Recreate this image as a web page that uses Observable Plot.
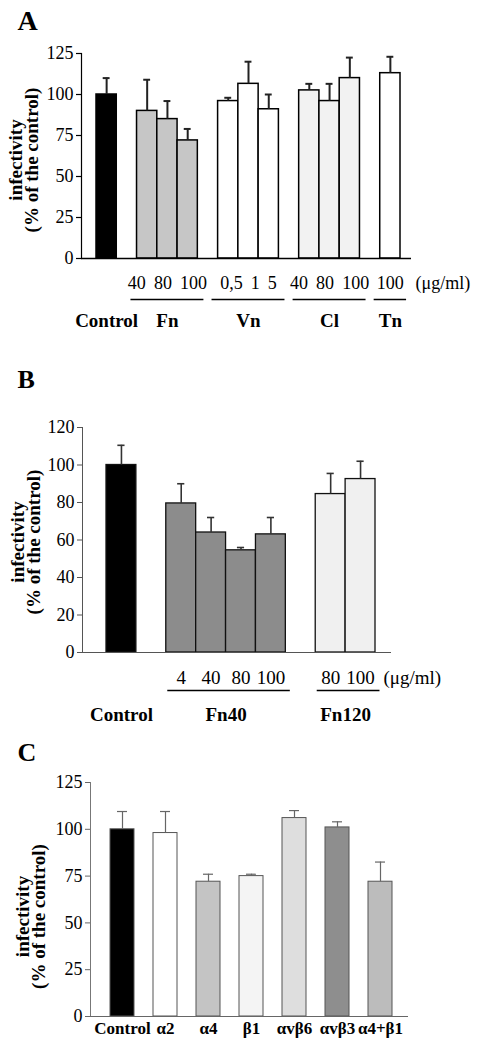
<!DOCTYPE html>
<html><head><meta charset="utf-8">
<script src="https://cdn.jsdelivr.net/npm/d3@7"></script>
<script src="https://cdn.jsdelivr.net/npm/@observablehq/plot@0.6"></script>
<style>
body{margin:0;background:#fff;width:480px}
#chart svg{display:block}
</style>
</head><body><div id="chart"></div>
<script>
// ---------- Panel A ----------
const aGroups = ["Control", "Fn", "Vn", "Cl", "Tn"];
const aConc = [[""], ["40", "80", "100"], ["0,5", "1", "5"], ["40", "80", "100"], ["100"]];
const aValues = [[100], [90, 85, 72], [96, 106.5, 91], [102.5, 96, 110], [113]];
const aErrors = [[110], [109, 96, 79], [98, 120, 100], [106.5, 106.5, 122.5], [123]];
const aFills = ["#000000", "#c6c6c6", "#ffffff", "#f2f2f2", "#ffffff"];
const aTicks = [0, 25, 50, 75, 100, 125];

// ---------- Panel B ----------
const bGroups = ["Control", "Fn40", "Fn120"];
const bConc = [[""], ["4", "40", "80", "100"], ["80", "100"]];
const bValues = [[100], [79.5, 64, 54.5, 63], [84.5, 92.5]];
const bErrors = [[110.5], [90, 72, 56, 72], [95.5, 102]];
const bFills = ["#000000", "#8c8c8c", "#f0f0f0"];
const bTicks = [0, 20, 40, 60, 80, 100, 120];

// ---------- Panel C ----------
const cCategories = ["Control", "α2", "α4", "β1", "αvβ6", "αvβ3", "α4+β1"];
const cValues = [100, 98, 72, 75, 106, 101, 72];
const cErrors = [109.5, 109.5, 76, 76, 110, 104, 82.5];
const cFills = ["#000000", "#ffffff", "#c4c4c4", "#f4f4f4", "#dedede", "#8e8e8e", "#bcbcbc"];
const cTicks = [0, 25, 50, 75, 100, 125];

const yLabel = "infectivity\n(% of the control)";
const unitLabel = "(μg/ml)";
const serif = "'Liberation Serif', 'DejaVu Serif', serif";

// build slot layout: bars of a group side by side, one empty slot between groups
function layout(groups, conc, values, errors) {
  const rows = [], spans = [];
  let slot = 0;
  groups.forEach((g, gi) => {
    const start = slot;
    conc[gi].forEach((c, k) => {
      rows.push({group: g, conc: c, value: values[gi][k], err: errors[gi][k], i: slot});
      slot++;
    });
    spans.push({group: g, start, end: slot, label: conc[gi].join("\u2009 "), hasConc: conc[gi].some(c => c !== "")});
    if (gi < groups.length - 1) slot++;
  });
  return {rows, spans, n: slot};
}

const root = document.getElementById("chart");

// ----- A -----
const A = layout(aGroups, aConc, aValues, aErrors);
const aSpans = A.spans.filter(s => s.hasConc);
root.append(Plot.plot({
  width: 480, height: 340,
  marginTop: 53, marginBottom: 82, marginLeft: 81, marginRight: 69,
  style: {fontFamily: serif, fontSize: "18px", background: "white", overflow: "visible"},
  x: {domain: [0, A.n], insetLeft: 15, insetRight: 11, axis: null},
  y: {domain: [0, 125], axis: null},
  color: {domain: aGroups, range: aFills},
  marks: [
    Plot.axisY({ticks: aTicks, tickSize: 5, tickPadding: 3, fontSize: 18, fontFamily: serif, stroke: "#000", strokeWidth: 1.2}),
    Plot.rectY(A.rows, {x1: "i", x2: d => d.i + 1, y: "value", fill: "group", stroke: "#000", strokeWidth: 1.5}),
    Plot.ruleX(A.rows, {x: d => d.i + 0.5, y1: "value", y2: "err", stroke: "#222", strokeWidth: 2}),
    Plot.ruleY(A.rows, {y: "err", x1: d => d.i + 0.33, x2: d => d.i + 0.67, stroke: "#222", strokeWidth: 2}),
    Plot.frame({anchor: "left", stroke: "#000", strokeWidth: 1.2}),
    Plot.ruleY([0], {stroke: "#000", strokeWidth: 1.5}),
    Plot.text(aSpans, {x: d => (d.start + d.end) / 2, text: "label", frameAnchor: "bottom", lineAnchor: "bottom", dy: 30, fontSize: 18, fontFamily: serif}),
    Plot.text([unitLabel], {x: () => A.n, text: d => d, frameAnchor: "bottom", lineAnchor: "bottom", dx: 15, dy: 30, textAnchor: "start", fontSize: 18, fontFamily: serif}),
    Plot.ruleY(aSpans, {y: () => 0, x1: d => d.start - 0.3, x2: d => d.end + 0.3, dy: 41, stroke: "#000", strokeWidth: 1.5}),
    Plot.text(A.spans, {x: d => (d.start + d.end) / 2, text: "group", frameAnchor: "bottom", lineAnchor: "bottom", dy: 68, fontSize: 19, fontWeight: "bold", fontFamily: serif}),
    Plot.text(["A"], {frameAnchor: "top-left", lineAnchor: "middle", text: d => d, dx: -64, dy: -32, fontSize: 28, fontWeight: "bold", textAnchor: "start", fontFamily: serif}),
    Plot.text([yLabel], {frameAnchor: "left", text: d => d, rotate: -90, dx: -57, dy: 4, fontSize: 19, fontWeight: "bold", lineHeight: 0.88, textAnchor: "middle", lineAnchor: "middle", fontFamily: serif})
  ]
}));

// ----- B -----
const B = layout(bGroups, bConc, bValues, bErrors);
const bSpans = B.spans.filter(s => s.hasConc);
root.append(Plot.plot({
  width: 480, height: 385,
  marginTop: 87, marginBottom: 73, marginLeft: 82, marginRight: 89,
  style: {fontFamily: serif, fontSize: "18px", background: "white", overflow: "visible"},
  x: {domain: [0, B.n], insetLeft: 24, insetRight: 16, axis: null},
  y: {domain: [0, 120], axis: null},
  color: {domain: bGroups, range: bFills},
  marks: [
    Plot.axisY({ticks: bTicks, tickSize: 5, tickPadding: 3, fontSize: 18, fontFamily: serif, stroke: "#555"}),
    Plot.rectY(B.rows, {x1: "i", x2: d => d.i + 1, y: "value", fill: "group", stroke: "#111", strokeWidth: 1.3}),
    Plot.ruleX(B.rows, {x: d => d.i + 0.5, y1: "value", y2: "err", stroke: "#333", strokeWidth: 1.6}),
    Plot.ruleY(B.rows, {y: "err", x1: d => d.i + 0.38, x2: d => d.i + 0.62, stroke: "#333", strokeWidth: 1.6}),
    Plot.frame({anchor: "left", stroke: "#555"}),
    Plot.ruleY([0], {stroke: "#555", strokeWidth: 1.2}),
    Plot.text(B.rows.filter(d => d.conc !== ""), {x: d => d.i + 0.5, text: "conc", frameAnchor: "bottom", lineAnchor: "bottom", dy: 31, fontSize: 19, fontFamily: serif}),
    Plot.text([unitLabel], {x: () => B.n, text: d => d, frameAnchor: "bottom", lineAnchor: "bottom", dx: 8, dy: 31, textAnchor: "start", fontSize: 19, fontFamily: serif}),
    Plot.ruleY(bSpans, {y: () => 0, x1: d => d.start + 0.05, x2: d => d.end + 0.15, dy: 38, stroke: "#000", strokeWidth: 1.5}),
    Plot.text(B.spans, {x: d => (d.start + d.end) / 2, text: "group", frameAnchor: "bottom", lineAnchor: "bottom", dy: 68, fontSize: 19, fontWeight: "bold", fontFamily: serif}),
    Plot.text(["B"], {frameAnchor: "top-left", lineAnchor: "middle", text: d => d, dx: -65, dy: -48, fontSize: 26, fontWeight: "bold", textAnchor: "start", fontFamily: serif}),
    Plot.text([yLabel], {frameAnchor: "left", text: d => d, rotate: -90, dx: -56, dy: 2, fontSize: 19, fontWeight: "bold", lineHeight: 0.85, textAnchor: "middle", lineAnchor: "middle", fontFamily: serif})
  ]
}));

// ----- C -----
const cRows = cCategories.map((c, k) => ({cat: c, value: cValues[k], err: cErrors[k]}));
root.append(Plot.plot({
  width: 480, height: 325,
  marginTop: 57, marginBottom: 34, marginLeft: 90, marginRight: 72,
  style: {fontFamily: serif, fontSize: "18px", background: "white", overflow: "visible"},
  x: {domain: cCategories, paddingInner: 0.45, paddingOuter: 0.35, insetLeft: 3, axis: null},
  y: {domain: [0, 125], axis: null},
  color: {domain: cCategories, range: cFills},
  marks: [
    Plot.axisY({ticks: cTicks, tickSize: 5, tickPadding: 3, fontSize: 18, fontFamily: serif, stroke: "#666"}),
    Plot.barY(cRows, {x: "cat", y: "value", fill: "cat", stroke: "#555", strokeWidth: 1}),
    Plot.ruleX(cRows, {x: "cat", y1: "value", y2: "err", stroke: "#666", strokeWidth: 1.2}),
    Plot.tickY(cRows, {x: "cat", y: "err", insetLeft: 7, insetRight: 7, stroke: "#666", strokeWidth: 1.2}),
    Plot.frame({anchor: "left", stroke: "#777"}),
    Plot.ruleY([0], {stroke: "#666", strokeWidth: 1.2}),
    Plot.text(cRows, {x: "cat", text: "cat", frameAnchor: "bottom", lineAnchor: "bottom", dy: 17, fontSize: 17, fontWeight: "bold", fontFamily: serif}),
    Plot.text(["C"], {frameAnchor: "top-left", lineAnchor: "middle", text: d => d, dx: -73, dy: -30, fontSize: 26, fontWeight: "bold", textAnchor: "start", fontFamily: serif}),
    Plot.text([yLabel], {frameAnchor: "left", text: d => d, rotate: -90, dx: -59, dy: 17, fontSize: 19, fontWeight: "bold", lineHeight: 0.85, textAnchor: "middle", lineAnchor: "middle", fontFamily: serif})
  ]
}));
</script>
</body></html>
